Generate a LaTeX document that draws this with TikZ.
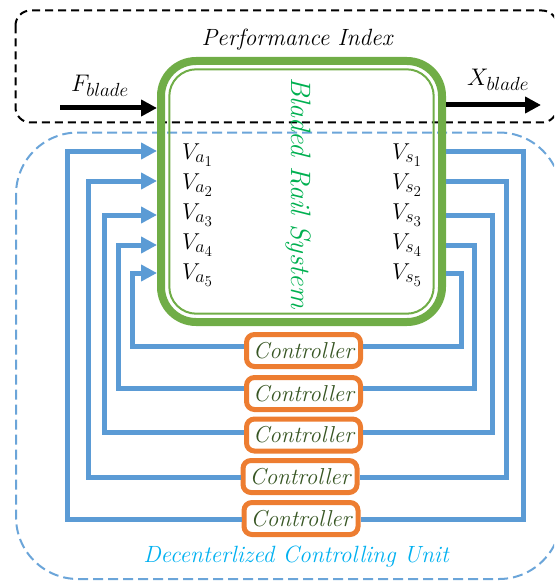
\RequirePackage{fix-cm}
\documentclass[tikz,border=0pt]{standalone}
\usetikzlibrary{arrows.meta}
\DeclareMathSizes{23}{23}{18}{15}
\DeclareMathSizes{24}{24}{19}{15}
\definecolor{bl}{HTML}{5B9BD5}
\definecolor{gr}{HTML}{70AD47}
\definecolor{orng}{HTML}{ED7D31}
\definecolor{ctxt}{HTML}{375623}
\definecolor{brs}{HTML}{00B050}
\definecolor{dcu}{HTML}{00B0F0}
\begin{document}
\begin{tikzpicture}[x=1pt,y=-1pt,
  bline/.style={draw=bl,line width=5pt},
  barrow/.style={bline,-{Triangle[length=16pt,width=16pt]}},
  karrow/.style={line width=5pt,-{Triangle[length=16pt,width=16pt]}},
  ctrl/.style={draw=orng,line width=5pt,rounded corners=8pt,minimum width=114pt,minimum height=32pt,inner sep=0pt,font=\fontsize{23}{26}\selectfont\itshape,text=ctxt,fill=white},
  lab/.style={font=\fontsize{23}{26}\selectfont,anchor=west,inner sep=0pt},
  ttl/.style={font=\fontsize{23.5}{27}\selectfont\itshape,inner sep=0pt},
]
\useasboundingbox (0,0) rectangle (554,583);
\clip (0,0) rectangle (554,583);
% dashed frames
\draw[line width=2pt,dash pattern=on 8pt off 5pt,rounded corners=15pt] (15.5,10.5) rectangle (557,122.5);
\draw[bl!90,line width=2pt,dash pattern=on 10pt off 5pt,rounded corners=62pt] (16,132.5) rectangle (561,579);
% system block
\node[draw=gr,line width=8pt,rounded corners=35pt,minimum width=281pt,minimum height=261pt,inner sep=0pt] (sys) at (301.5,191.5) {};
\draw[gr,line width=2pt,rounded corners=27pt] (169.3,69.3) rectangle (433.7,313.7);
\node[font=\fontsize{28}{30}\selectfont\itshape,inner sep=0pt,rotate=-90,text=brs] (brs) at (298,193) {Bladed Rail System};
% titles
\node[ttl] (pi) at (297,40) {Performance Index};
\node[ttl] (dcu) at (296,557) [text=dcu] {Decenterlized Controlling Unit};
\node[font=\fontsize{24}{27}\selectfont,inner sep=0pt] (fb) at (100,86) {$F_{blade}$};
\node[font=\fontsize{24}{27}\selectfont,inner sep=0pt] (xb) at (498,80) {$X_{blade}$};
% input / output
\coordinate (fstart) at (60,108);
\coordinate (xend) at (541,105);
\draw[karrow] (fstart) -- (sys.west |- fstart);
\draw[karrow] (sys.east |- xend) -- (xend);
% labels
\foreach \i/\y in {1/155,2/185,3/215,4/245,5/275}{
  \node[lab] (va\i) at (182,\y) {$V_{a_\i}$};
  \node[lab] (vs\i) at (392,\y) {$V_{s_\i}$};
}
% controllers
\node[ctrl] (c1) at (303.5,350.5) {Controller};
\node[ctrl] (c2) at (303.5,393.5) {Controller};
\node[ctrl] (c3) at (303.5,435) {Controller};
\node[ctrl] (c4) at (300,476.5) {Controller};
\node[ctrl] (c5) at (301,518.5) {Controller};
% feedback loops
\foreach \ya/\xl/\c/\yc/\xr in {151/67/c5/519/523, 181/88/c4/477/506, 215/104/c3/432/492, 245/118/c2/388/474, 273/132/c1/346/461}{
  \draw[barrow] (\c.west |- 0,\yc) -| (\xl,\ya) -- (sys.west |- 0,\ya);
  \draw[bline] (sys.east |- 0,\ya) -| (\xr,\yc) -- (\c.east |- 0,\yc);
}
\end{tikzpicture}
\end{document}
